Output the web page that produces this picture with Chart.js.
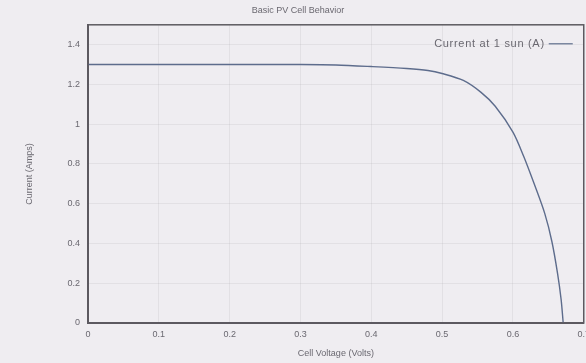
<!DOCTYPE html>
<html lang="en">
<head>
    <meta charset="UTF-8">
    <title>Basic PV Cell Behavior</title>
    <style>
        html, body {
            margin: 0;
            padding: 0;
            background: #efedf1;
            overflow: hidden;
        }

        #chart-box {
            width: 596px;
            height: 363px;
        }
    </style>
</head>
<body>
    <div id="chart-box">
        <canvas id="pv-chart"></canvas>
    </div>

    <script src="https://cdn.jsdelivr.net/npm/chart.js@4.4.1/dist/chart.umd.min.js"></script>

    <script>
        // Values
        const voltage = [0, 0.1, 0.2, 0.3, 0.35, 0.4, 0.45, 0.48, 0.5, 0.53, 0.555, 0.575, 0.6, 0.615, 0.63, 0.645, 0.655, 0.663, 0.668, 0.671];
        const current = [1.3, 1.3, 1.3, 1.3, 1.298, 1.29, 1.28, 1.27, 1.255, 1.22, 1.16, 1.09, 0.96, 0.84, 0.7, 0.55, 0.41, 0.25, 0.12, 0];
        const yTicks = [0, 0.2, 0.4, 0.6, 0.8, 1, 1.2, 1.4];
        const xTicks = [0, 0.1, 0.2, 0.3, 0.4, 0.5, 0.6, 0.7];

        const textColor = '#6a6870';
        const axisColor = '#5c5a60';
        const lineColor = '#5d6c8c';

        const points = voltage.map((v, i) => ({ x: v, y: current[i] }));

        // thin frame round the plot area (top and right sides)
        const framePlugin = {
            id: 'frame',
            afterDraw(chart) {
                const { ctx, chartArea: { left, top, right, bottom } } = chart;
                ctx.save();
                ctx.strokeStyle = axisColor;
                ctx.lineWidth = 1.5;
                ctx.strokeRect(left, top, right - left, bottom - top);
                ctx.restore();
            }
        };

        // legend in the top right corner, text first then the line sample
        const cornerLegend = {
            id: 'cornerLegend',
            afterDraw(chart) {
                const { ctx, chartArea: { top, right } } = chart;
                const ds = chart.data.datasets[0];
                const y = top + 19;
                const lineEnd = right - 11;
                const lineStart = lineEnd - 24;
                ctx.save();
                ctx.font = '11px "Liberation Sans", Arial, sans-serif';
                ctx.letterSpacing = '0.7px';
                ctx.fillStyle = textColor;
                ctx.textAlign = 'right';
                ctx.textBaseline = 'middle';
                ctx.fillText(ds.label, lineStart - 4, y);
                ctx.strokeStyle = ds.borderColor;
                ctx.lineWidth = 1.2;
                ctx.beginPath();
                ctx.moveTo(lineStart, y);
                ctx.lineTo(lineEnd, y);
                ctx.stroke();
                ctx.restore();
            }
        };

        Chart.defaults.font.family = '"Liberation Sans", Arial, sans-serif';
        Chart.defaults.font.size = 9;
        Chart.defaults.color = textColor;

        new Chart(document.getElementById('pv-chart'), {
            type: 'line',
            data: {
                datasets: [
                    {
                        label: 'Current at 1 sun (A)',
                        data: points,
                        borderColor: lineColor,
                        backgroundColor: lineColor,
                        borderWidth: 1.4,
                        pointRadius: 0,
                        tension: 0.3,
                        fill: false
                    }
                ]
            },
            options: {
                responsive: true,
                maintainAspectRatio: false,
                animation: false,
                layout: {
                    padding: { left: 0, right: 0, top: 0, bottom: 0 }
                },
                plugins: {
                    title: {
                        display: true,
                        text: 'Basic PV Cell Behavior',
                        color: textColor,
                        font: { size: 9, weight: 'normal' },
                        padding: { top: 5, bottom: 9 }
                    },
                    legend: { display: false },
                    tooltip: { enabled: false }
                },
                scales: {
                    x: {
                        type: 'linear',
                        min: 0,
                        max: 0.7,
                        afterBuildTicks(scale) {
                            scale.ticks = xTicks.map(v => ({ value: v }));
                        },
                        afterFit(scale) {
                            scale.height = 40;
                        },
                        ticks: {
                            padding: 6,
                            color: textColor,
                            callback: v => String(v)
                        },
                        grid: {
                            color: 'rgba(0,0,0,0.05)',
                            drawTicks: false
                        },
                        border: { color: axisColor, width: 2 },
                        title: {
                            display: true,
                            text: 'Cell Voltage (Volts)',
                            color: textColor,
                            font: { size: 9 },
                            padding: { top: 1 }
                        }
                    },
                    y: {
                        type: 'linear',
                        min: 0,
                        max: 1.5,
                        afterBuildTicks(scale) {
                            scale.ticks = yTicks.map(v => ({ value: v }));
                        },
                        afterFit(scale) {
                            scale.width = 88;
                        },
                        ticks: {
                            padding: 8,
                            color: textColor,
                            callback: v => String(v)
                        },
                        grid: {
                            color: 'rgba(0,0,0,0.05)',
                            drawTicks: false
                        },
                        border: { color: axisColor, width: 2 },
                        title: {
                            display: true,
                            text: 'Current (Amps)',
                            color: textColor,
                            font: { size: 9 },
                            padding: { top: 24, bottom: 0 }
                        }
                    }
                }
            },
            plugins: [framePlugin, cornerLegend]
        });
    </script>
</body>
</html>
